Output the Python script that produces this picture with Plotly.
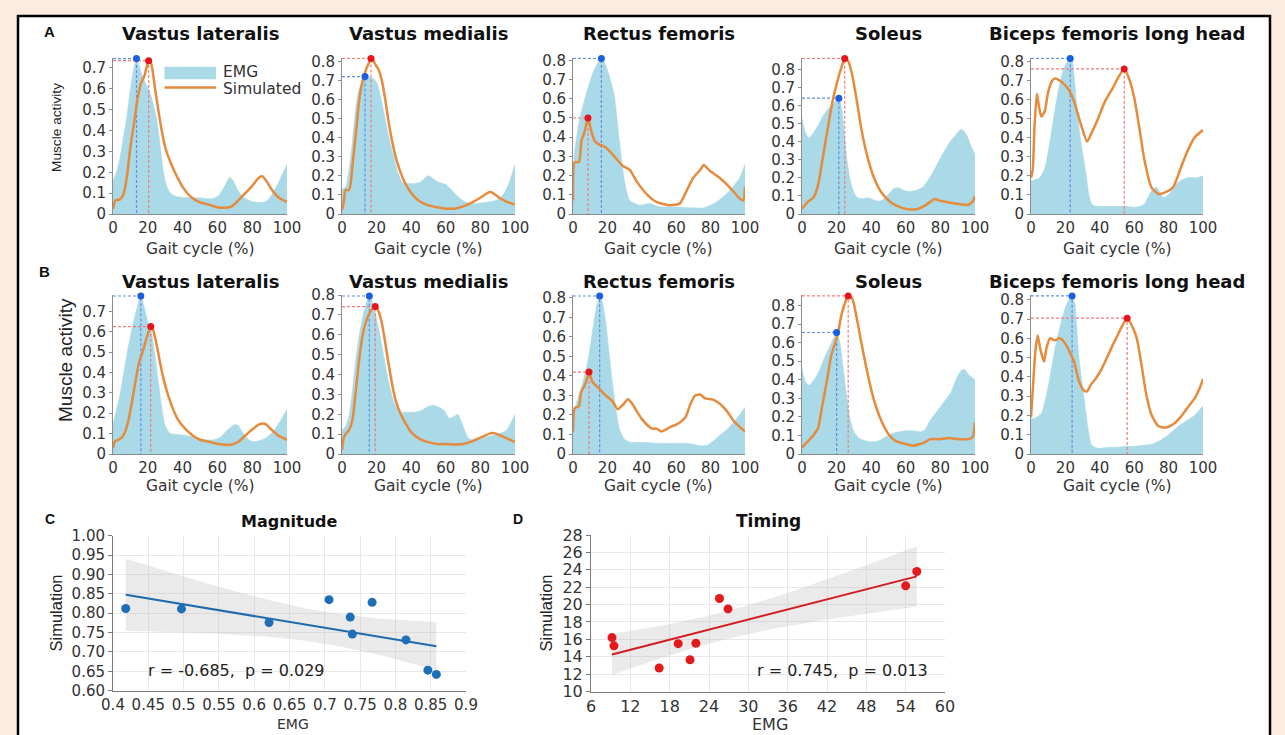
import numpy as np
import plotly.graph_objects as go

W, H = 1285, 735

MUSCLES = ["Vastus lateralis", "Vastus medialis", "Rectus femoris", "Soleus",
           "Biceps femoris long head"]
GAIT_TICKS = [0, 20, 40, 60, 80, 100]

# ---------------- Row A : EMG (filled) and simulated activity ----------------
A_VL_EMG_X = [0, 2, 4, 6, 8, 10, 12, 13.5, 15, 17, 19, 21, 23, 25, 27, 29, 31, 33, 36, 40, 45, 50, 55, 58, 61, 64, 67, 69, 72, 75, 80, 85, 88, 91, 95, 100]
A_VL_EMG_Y = [0.16, 0.2, 0.27, 0.37, 0.47, 0.6, 0.7, 0.745, 0.71, 0.66, 0.62, 0.59, 0.53, 0.46, 0.34, 0.2, 0.13, 0.1, 0.085, 0.08, 0.078, 0.077, 0.073, 0.075, 0.09, 0.13, 0.175, 0.16, 0.11, 0.08, 0.06, 0.055, 0.06, 0.09, 0.15, 0.24]
A_VL_SIM_X = [0, 1.4, 4, 6, 8, 10, 12, 14, 16, 18, 19.5, 20.5, 22, 24, 26, 28, 30, 32, 35, 38, 40, 45, 50, 55, 60, 65, 68, 72, 76, 80, 84, 86, 88, 91, 95, 100]
A_VL_SIM_Y = [0.025, 0.065, 0.07, 0.095, 0.18, 0.32, 0.43, 0.545, 0.625, 0.66, 0.71, 0.735, 0.72, 0.61, 0.5, 0.4, 0.32, 0.27, 0.21, 0.16, 0.13, 0.08, 0.056, 0.045, 0.032, 0.03, 0.035, 0.065, 0.1, 0.135, 0.175, 0.18, 0.16, 0.12, 0.08, 0.057]

A_VM_EMG_X = [0, 2, 4, 6, 8, 10, 12, 13.3, 15, 18, 20, 22, 24, 26, 28, 30, 32, 35, 38, 42, 45, 48, 50, 52, 55, 58, 60, 63, 66, 70, 74, 78, 82, 86, 90, 93, 96, 100]
A_VM_EMG_Y = [0.13, 0.14, 0.23, 0.38, 0.56, 0.66, 0.7, 0.72, 0.72, 0.71, 0.69, 0.63, 0.54, 0.45, 0.365, 0.3, 0.225, 0.165, 0.16, 0.16, 0.165, 0.19, 0.2, 0.19, 0.17, 0.16, 0.155, 0.13, 0.1, 0.07, 0.055, 0.055, 0.06, 0.065, 0.075, 0.1, 0.15, 0.26]
A_VM_SIM_X = [0, 1, 2, 4, 5, 6, 8, 10, 12, 14, 15.5, 16.8, 18, 19.5, 21, 23, 25, 27, 29, 31, 33, 36, 40, 45, 50, 55, 60, 65, 70, 75, 80, 84, 86, 88, 91, 95, 100]
A_VM_SIM_Y = [0.02, 0.06, 0.125, 0.125, 0.16, 0.25, 0.42, 0.6, 0.7, 0.76, 0.79, 0.815, 0.805, 0.78, 0.76, 0.7, 0.6, 0.48, 0.38, 0.3, 0.24, 0.17, 0.11, 0.065, 0.045, 0.035, 0.028, 0.028, 0.04, 0.06, 0.085, 0.11, 0.115, 0.105, 0.085, 0.065, 0.05]

A_RF_EMG_X = [0, 1, 4, 8, 11.6, 14, 16.5, 18, 20, 22, 24, 27, 30, 33, 38.8, 44.7, 50, 60, 70, 76, 83.5, 91, 97, 100]
A_RF_EMG_Y = [0.2, 0.33, 0.5, 0.635, 0.735, 0.78, 0.81, 0.795, 0.75, 0.69, 0.62, 0.38, 0.17, 0.07, 0.046, 0.055, 0.038, 0.037, 0.032, 0.032, 0.063, 0.12, 0.19, 0.26]
A_RF_SIM_X = [0, 1, 3.5, 4.9, 6.8, 8.7, 10.7, 12.6, 15.5, 18.4, 21, 25, 29, 33, 37, 42.7, 48.5, 56.3, 62, 66, 70, 74, 76, 79.5, 85, 91, 97, 99, 100]
A_RF_SIM_Y = [0.07, 0.27, 0.27, 0.38, 0.43, 0.5, 0.43, 0.38, 0.36, 0.35, 0.33, 0.29, 0.25, 0.23, 0.17, 0.105, 0.063, 0.046, 0.054, 0.12, 0.19, 0.23, 0.255, 0.225, 0.19, 0.14, 0.08, 0.07, 0.14]

A_SOL_EMG_X = [0, 2, 4, 6, 8, 10, 12, 15, 18, 21.3, 23, 24.5, 26, 28, 30, 32, 35, 38, 41, 44, 47, 50, 53, 56, 59, 62, 66, 70, 75, 80, 85, 90, 92, 95, 98, 100]
A_SOL_EMG_Y = [0.53, 0.45, 0.42, 0.44, 0.47, 0.5, 0.54, 0.58, 0.61, 0.64, 0.58, 0.45, 0.3, 0.18, 0.12, 0.09, 0.085, 0.09, 0.08, 0.07, 0.08, 0.11, 0.14, 0.145, 0.13, 0.125, 0.13, 0.15, 0.22, 0.31, 0.39, 0.45, 0.47, 0.44, 0.37, 0.33]
A_SOL_SIM_X = [0, 3.7, 6.5, 9.3, 12, 15, 17.7, 20.5, 22.8, 24.7, 26.7, 29, 31.7, 34.5, 38, 41.6, 45.8, 51.4, 57, 62.6, 66.9, 71, 75, 76.7, 79.5, 85, 90.7, 96, 99, 100]
A_SOL_SIM_Y = [0.03, 0.07, 0.09, 0.16, 0.31, 0.48, 0.625, 0.735, 0.81, 0.86, 0.845, 0.77, 0.625, 0.46, 0.31, 0.2, 0.12, 0.064, 0.037, 0.025, 0.028, 0.046, 0.073, 0.083, 0.074, 0.064, 0.055, 0.05, 0.074, 0.1]

A_BF_EMG_X = [0, 5, 8, 11, 13.8, 16.6, 19.4, 22.8, 24, 26.4, 29, 32, 34, 36, 40, 45, 50, 55, 60, 65.7, 70, 72.8, 77, 79.8, 85.4, 91, 96.6, 100]
A_BF_EMG_Y = [0.174, 0.19, 0.24, 0.38, 0.54, 0.68, 0.77, 0.815, 0.8, 0.59, 0.38, 0.21, 0.087, 0.045, 0.04, 0.04, 0.04, 0.04, 0.035, 0.05, 0.12, 0.14, 0.087, 0.1, 0.165, 0.19, 0.19, 0.2]
A_BF_SIM_X = [0, 1, 2, 3.4, 4.5, 6, 8, 10, 12.4, 14, 18, 22, 25, 29, 32.6, 35, 39, 43, 47.5, 51, 54.2, 57, 60, 63, 66, 70, 74, 78, 82.6, 87, 91, 95, 100]
A_BF_SIM_Y = [0.19, 0.23, 0.45, 0.63, 0.57, 0.51, 0.54, 0.64, 0.7, 0.71, 0.69, 0.65, 0.59, 0.47, 0.38, 0.42, 0.5, 0.59, 0.66, 0.72, 0.76, 0.71, 0.61, 0.45, 0.28, 0.14, 0.105, 0.113, 0.14, 0.24, 0.33, 0.4, 0.44]

# ---------------- Row B ----------------
B_VL_EMG_X = [0, 4, 8, 11, 13, 16, 18, 20, 22, 24, 26, 28, 30, 33, 38, 43, 48, 53, 58, 62, 66, 70, 72, 75, 78, 81, 84, 88, 92, 96, 100]
B_VL_EMG_Y = [0.15, 0.29, 0.49, 0.62, 0.69, 0.775, 0.72, 0.65, 0.6, 0.49, 0.36, 0.23, 0.14, 0.1, 0.095, 0.09, 0.08, 0.07, 0.07, 0.085, 0.12, 0.145, 0.14, 0.1, 0.07, 0.06, 0.065, 0.08, 0.11, 0.16, 0.22]
B_VL_SIM_X = [0, 1, 3, 5, 7, 9, 11, 13, 15, 17, 19, 21.7, 23, 25, 27, 29, 32, 35, 38, 42, 46, 50, 55, 60, 65, 68, 72, 76, 80, 84, 86, 88, 91, 95, 100]
B_VL_SIM_Y = [0.03, 0.06, 0.07, 0.08, 0.11, 0.17, 0.26, 0.36, 0.45, 0.5, 0.56, 0.625, 0.61, 0.54, 0.45, 0.37, 0.28, 0.21, 0.16, 0.12, 0.09, 0.07, 0.06, 0.05, 0.045, 0.045, 0.06, 0.09, 0.12, 0.145, 0.15, 0.145, 0.12, 0.09, 0.07]

B_VM_EMG_X = [0, 2, 4, 6, 8, 10, 12, 14, 15.8, 17, 19, 21, 23, 25, 27, 29, 31, 34, 38, 42, 46, 50, 53, 56, 59, 62, 65, 67, 70, 73, 76, 80, 85, 90, 95, 100]
B_VM_EMG_Y = [0.12, 0.14, 0.19, 0.32, 0.48, 0.6, 0.69, 0.76, 0.795, 0.78, 0.72, 0.64, 0.55, 0.45, 0.36, 0.29, 0.24, 0.21, 0.21, 0.21, 0.22, 0.24, 0.245, 0.235, 0.22, 0.18, 0.19, 0.2, 0.14, 0.08, 0.07, 0.075, 0.09, 0.1, 0.12, 0.2]
B_VM_SIM_X = [0, 1, 2, 4, 6, 8, 10, 12, 14, 16, 17.5, 19.2, 21, 23, 25, 27, 29, 31, 34, 37, 40, 45, 50, 55, 60, 65, 70, 74, 78, 82, 86, 88, 91, 95, 100]
B_VM_SIM_Y = [0.02, 0.08, 0.1, 0.12, 0.17, 0.32, 0.48, 0.6, 0.67, 0.71, 0.73, 0.742, 0.72, 0.66, 0.56, 0.45, 0.35, 0.27, 0.2, 0.15, 0.11, 0.075, 0.06, 0.05, 0.05, 0.048, 0.05, 0.06, 0.075, 0.09, 0.105, 0.105, 0.095, 0.08, 0.06]

B_RF_EMG_X = [0, 2, 4, 6, 8, 10, 12, 14, 15.5, 17, 19, 21, 23, 25, 27, 30, 33, 38, 44, 50, 56, 62, 66, 70, 74, 78, 82, 86, 90, 95, 100]
B_RF_EMG_Y = [0.22, 0.26, 0.32, 0.38, 0.45, 0.55, 0.67, 0.77, 0.81, 0.78, 0.68, 0.52, 0.36, 0.23, 0.13, 0.075, 0.06, 0.06, 0.058, 0.055, 0.055, 0.055, 0.055, 0.05, 0.042, 0.045, 0.07, 0.1, 0.13, 0.18, 0.24]
B_RF_SIM_X = [0, 1, 3.4, 4.8, 6.2, 7.6, 9.3, 11.3, 14.7, 19, 23, 26, 28.8, 32, 35, 37, 40, 43, 46, 48.6, 51.4, 54, 57, 60, 62.7, 65.5, 68, 71, 74, 76.8, 81, 85, 89.5, 93.8, 98, 100]
B_RF_SIM_Y = [0.115, 0.235, 0.245, 0.32, 0.34, 0.37, 0.42, 0.37, 0.34, 0.3, 0.27, 0.23, 0.25, 0.28, 0.25, 0.22, 0.18, 0.15, 0.13, 0.13, 0.115, 0.125, 0.14, 0.15, 0.165, 0.19, 0.25, 0.3, 0.305, 0.285, 0.28, 0.26, 0.22, 0.165, 0.13, 0.115]

B_SOL_EMG_X = [0, 2, 4, 7, 10, 13, 16, 18, 20, 22, 24, 26, 28, 30, 33, 37, 40, 44, 48, 52, 56, 60, 64, 68, 71, 74, 78, 82, 86, 89, 92, 94, 96, 100]
B_SOL_EMG_Y = [0.46, 0.39, 0.37, 0.4, 0.45, 0.52, 0.58, 0.62, 0.655, 0.6, 0.45, 0.3, 0.18, 0.12, 0.085, 0.07, 0.065, 0.07, 0.09, 0.11, 0.12, 0.125, 0.125, 0.12, 0.13, 0.18, 0.23, 0.28, 0.33, 0.4, 0.45, 0.455, 0.43, 0.4]
B_SOL_SIM_X = [0, 3.6, 6.5, 9.3, 11.5, 14.3, 17, 20.5, 22.8, 24.7, 26.7, 29, 31.7, 34.5, 38, 41.6, 45.8, 50, 54, 60, 64, 68, 71, 74, 79.5, 85, 90.7, 96, 98.6, 100]
B_SOL_SIM_Y = [0.035, 0.07, 0.1, 0.14, 0.25, 0.39, 0.535, 0.64, 0.75, 0.81, 0.852, 0.84, 0.73, 0.59, 0.43, 0.29, 0.18, 0.107, 0.071, 0.054, 0.045, 0.054, 0.063, 0.08, 0.08, 0.086, 0.08, 0.08, 0.09, 0.17]

B_BF_EMG_X = [0, 3, 6, 8, 10, 12, 14, 16, 18, 20, 22, 23.9, 25.5, 27.8, 30.6, 33.4, 35, 37, 40, 45, 50, 55, 60, 65, 70, 75, 80, 85, 90, 95, 100]
B_BF_EMG_Y = [0.18, 0.19, 0.21, 0.27, 0.35, 0.45, 0.55, 0.63, 0.7, 0.76, 0.8, 0.82, 0.78, 0.51, 0.31, 0.12, 0.05, 0.035, 0.03, 0.035, 0.035, 0.04, 0.04, 0.045, 0.05, 0.07, 0.1, 0.14, 0.17, 0.2, 0.25]
B_BF_SIM_X = [0, 1.1, 2.5, 3.9, 5.3, 6.7, 7.6, 9, 11, 13.8, 16.6, 18.5, 20.8, 23, 25, 27.8, 30.6, 32.6, 34.8, 37.6, 41, 44.7, 47.5, 50.3, 53, 55.9, 58.7, 61.5, 64.3, 67, 70, 74, 78.4, 82.6, 86.8, 91, 95.2, 98, 100]
B_BF_SIM_Y = [0.19, 0.34, 0.53, 0.615, 0.55, 0.5, 0.48, 0.55, 0.6, 0.59, 0.6, 0.59, 0.56, 0.52, 0.48, 0.38, 0.33, 0.325, 0.36, 0.39, 0.44, 0.51, 0.565, 0.615, 0.665, 0.705, 0.665, 0.6, 0.46, 0.31, 0.205, 0.145, 0.137, 0.154, 0.19, 0.24, 0.29, 0.34, 0.39]

# ---------------- Panels C and D (peak magnitude / timing) ----------------
C_EMG = [0.418, 0.497, 0.621, 0.706, 0.736, 0.739, 0.767, 0.815, 0.846, 0.858]
C_SIM = [0.812, 0.811, 0.776, 0.835, 0.790, 0.746, 0.828, 0.731, 0.653, 0.642]
D_EMG = [9.2, 9.5, 16.4, 19.3, 21.1, 22.0, 25.6, 26.9, 54.0, 55.7]
D_SIM = [16.2, 15.25, 12.7, 15.5, 13.65, 15.55, 20.7, 19.5, 22.15, 23.8]
C_XTICKS = [0.4, 0.45, 0.5, 0.55, 0.6, 0.65, 0.7, 0.75, 0.8, 0.85, 0.9]
C_XTICKTEXT = ["0.4", "0.45", "0.5", "0.55", "0.6", "0.65", "0.7", "0.75", "0.8", "0.85", "0.9"]
C_YTICKS = [0.6, 0.65, 0.7, 0.75, 0.8, 0.85, 0.9, 0.95, 1.0]
D_XTICKS = [6, 12, 18, 24, 30, 36, 42, 48, 54, 60]
D_YTICKS = [10, 12, 14, 16, 18, 20, 22, 24, 26, 28]
C_STATS = "r = -0.685,\u00a0 p = 0.029"
D_STATS = "r = 0.745,\u00a0 p = 0.013"
T_CRIT = 2.306  # t(0.975, df=8)

ROWS = [
    [(A_VL_EMG_X, A_VL_EMG_Y, A_VL_SIM_X, A_VL_SIM_Y),
     (A_VM_EMG_X, A_VM_EMG_Y, A_VM_SIM_X, A_VM_SIM_Y),
     (A_RF_EMG_X, A_RF_EMG_Y, A_RF_SIM_X, A_RF_SIM_Y),
     (A_SOL_EMG_X, A_SOL_EMG_Y, A_SOL_SIM_X, A_SOL_SIM_Y),
     (A_BF_EMG_X, A_BF_EMG_Y, A_BF_SIM_X, A_BF_SIM_Y)],
    [(B_VL_EMG_X, B_VL_EMG_Y, B_VL_SIM_X, B_VL_SIM_Y),
     (B_VM_EMG_X, B_VM_EMG_Y, B_VM_SIM_X, B_VM_SIM_Y),
     (B_RF_EMG_X, B_RF_EMG_Y, B_RF_SIM_X, B_RF_SIM_Y),
     (B_SOL_EMG_X, B_SOL_EMG_Y, B_SOL_SIM_X, B_SOL_SIM_Y),
     (B_BF_EMG_X, B_BF_EMG_Y, B_BF_SIM_X, B_BF_SIM_Y)],
]

# ---------------- layout geometry (pixels) ----------------
COL_PX = [(113, 287), (342, 515), (573, 745), (802, 975), (1031, 1203)]
ROW_PX = [(57.5, 214), (295, 454)]
TITLE_Y = [34, 282]
XTITLE_Y = [249, 486]

EMG_FILL = "#aad9e7"
ORANGE = "#e68a3c"
BLUE_DOT = "#1a5fe0"
RED_DOT = "#e8141c"
BLUE_DASH = "#5f8fe8"
RED_DASH = "#f07c7c"
TXT = "#2b2b2b"
SANS = "DejaVu Sans"
ARIAL = "Liberation Sans"


def xd(l, r):
    return [l / W, r / W]


def yd(t, b):
    return [1 - b / H, 1 - t / H]


def px(xp):
    return xp / W


def py(yp):
    return 1 - yp / H


fig = go.Figure()
layout = dict(
    width=W, height=H, autosize=False,
    margin=dict(l=0, r=0, t=0, b=0, pad=0, autoexpand=False),
    paper_bgcolor="#fcebdf", plot_bgcolor="rgba(0,0,0,0)",
    showlegend=False, font=dict(family=SANS, color=TXT),
)
annotations = []
shapes = []


def ann(text, x, y, size, family=SANS, bold=False, angle=0, xanchor="center", color=TXT):
    annotations.append(dict(
        text=f"<b>{text}</b>" if bold else text, x=px(x), y=py(y), xref="paper", yref="paper",
        xanchor=xanchor, yanchor="middle", showarrow=False, textangle=angle,
        font=dict(size=size, family=family, color=color)))


n = 0
for r, row in enumerate(ROWS):
    for c, (ex, ey, sx, sy) in enumerate(row):
        n += 1
        xa, ya = f"x{n}", f"y{n}"
        ie, isim = int(np.argmax(ey)), int(np.argmax(sy))
        pe = (ex[ie], ey[ie])
        ps = (sx[isim], sy[isim])
        top = max(pe[1], ps[1]) + 0.005

        fig.add_trace(go.Scatter(x=ex, y=ey, mode="lines", fill="tozeroy", fillcolor=EMG_FILL,
                                 line=dict(color=EMG_FILL, width=0.5, shape="spline", smoothing=0.6),
                                 xaxis=xa, yaxis=ya, hoverinfo="skip"))
        for (p, col) in ((pe, BLUE_DASH), (ps, RED_DASH)):
            fig.add_trace(go.Scatter(x=[0, p[0], p[0]], y=[p[1], p[1], 0], mode="lines",
                                     line=dict(color=col, width=1.2, dash="3px,2px"),
                                     xaxis=xa, yaxis=ya, hoverinfo="skip"))
        fig.add_trace(go.Scatter(x=sx, y=sy, mode="lines",
                                 line=dict(color=ORANGE, width=2.5, shape="spline", smoothing=0.6),
                                 xaxis=xa, yaxis=ya))
        fig.add_trace(go.Scatter(x=[pe[0], ps[0]], y=[pe[1], ps[1]], mode="markers",
                                 marker=dict(color=[BLUE_DOT, RED_DOT], size=7),
                                 cliponaxis=False, xaxis=xa, yaxis=ya))

        l, rr = COL_PX[c]
        t, b = ROW_PX[r]
        layout[f"xaxis{n}"] = dict(
            domain=xd(l, rr), anchor=ya, range=[0, 100], tickvals=GAIT_TICKS, automargin=False,
            showline=True, linecolor="#8c8c8c", linewidth=1, ticks="",
            showgrid=False, zeroline=False, tickangle=0,
            tickfont=dict(family=SANS, size=15, color="#333"))
        layout[f"yaxis{n}"] = dict(
            domain=yd(t, b), anchor=xa, range=[0, top], tick0=0, dtick=0.1, automargin=False,
            showline=True, linecolor="#8c8c8c", linewidth=1, ticks="outside", ticklen=3,
            tickcolor="#8c8c8c", showgrid=False, zeroline=False,
            tickfont=dict(family=SANS, size=15, color="#333"))
        ann(MUSCLES[c], (l + rr) / 2, TITLE_Y[r], 18, bold=True, color="#111")
        ann("Gait cycle (%)", (l + rr) / 2, XTITLE_Y[r], 15.5, color="#333")

ann("Muscle activity", 56, 128, 13.7, family=ARIAL, angle=-90, color="#222")
ann("Muscle activity", 65, 360, 19, family=ARIAL, angle=-90, color="#222")
ann("A", 49, 31, 15, family=ARIAL, bold=True, color="#111")
ann("B", 44, 272, 15, family=ARIAL, bold=True, color="#111")

# legend (manual)
shapes.append(dict(type="rect", xref="paper", yref="paper", x0=px(164.5), x1=px(216),
                   y0=py(79.3), y1=py(66.7), fillcolor=EMG_FILL, line=dict(width=0), layer="above"))
shapes.append(dict(type="line", xref="paper", yref="paper", x0=px(164.5), x1=px(216),
                   y0=py(87.5), y1=py(87.5), line=dict(color=ORANGE, width=2.5), layer="above"))
ann("EMG", 221, 72, 15.5, xanchor="left", color="#333")
ann("Simulated", 221, 89, 15.5, xanchor="left", color="#333")


# ---------------- scatter panels ----------------
def regression(xv, yv):
    xv, yv = np.asarray(xv, float), np.asarray(yv, float)
    slope, icpt = np.polyfit(xv, yv, 1)
    res = yv - (slope * xv + icpt)
    s = np.sqrt(np.sum(res ** 2) / (len(xv) - 2))
    sxx = np.sum((xv - xv.mean()) ** 2)
    xs = np.linspace(xv.min(), xv.max(), 60)
    fit = slope * xs + icpt
    half = T_CRIT * s * np.sqrt(1 / len(xv) + (xs - xv.mean()) ** 2 / sxx)
    return xs, fit, fit - half, fit + half


SCATTERS = [
    dict(x=C_EMG, y=C_SIM, color="#1f6fb8", line="#1f6aad", title="Magnitude", stats=C_STATS,
         xb=(113, 466), yb=(535.7, 690.7), xr=[0.4, 0.9], yr=[0.6, 1.0],
         xt=C_XTICKS, xtt=C_XTICKTEXT, yt=C_YTICKS, ytf=".2f", letter="C", letter_x=50,
         stats_x=236, emg_x=293, emg_size=14, sim_x=55, tsize=16, tick_size=15),
    dict(x=D_EMG, y=D_SIM, color="#e31a1c", line="#d21c1f", title="Timing", stats=D_STATS,
         xb=(591, 945), yb=(535, 691.5), xr=[6, 60], yr=[10, 28],
         xt=D_XTICKS, xtt=[str(v) for v in D_XTICKS], yt=D_YTICKS, ytf="d", letter="D", letter_x=518,
         stats_x=842, emg_x=770, emg_size=16, sim_x=545, tsize=17, tick_size=16),
]

for k, sp in enumerate(SCATTERS):
    n += 1
    xa, ya = f"x{n}", f"y{n}"
    xs, fit, lo, hi = regression(sp["x"], sp["y"])
    fig.add_trace(go.Scatter(x=np.concatenate([xs, xs[::-1]]), y=np.concatenate([hi, lo[::-1]]),
                             fill="toself", fillcolor="rgba(185,185,185,0.3)", mode="lines",
                             line=dict(width=0), xaxis=xa, yaxis=ya, hoverinfo="skip"))
    fig.add_trace(go.Scatter(x=xs, y=fit, mode="lines", line=dict(color=sp["line"], width=2),
                             xaxis=xa, yaxis=ya))
    fig.add_trace(go.Scatter(x=sp["x"], y=sp["y"], mode="markers",
                             marker=dict(color=sp["color"], size=9), cliponaxis=False,
                             xaxis=xa, yaxis=ya))
    l, rr = sp["xb"]
    t, b = sp["yb"]
    common = dict(showline=True, linecolor="#7a7a7a", linewidth=1,
                  showgrid=True, gridcolor="#e8e8e8", gridwidth=1,
                  zeroline=False, tickangle=0, automargin=False,
                  tickfont=dict(family=SANS, size=sp["tick_size"], color="#333"))
    layout[f"xaxis{n}"] = dict(domain=xd(l, rr), anchor=ya, range=sp["xr"], tickvals=sp["xt"],
                               ticktext=sp["xtt"], ticks="", **common)
    layout[f"yaxis{n}"] = dict(domain=yd(t, b), anchor=xa, range=sp["yr"], tickvals=sp["yt"],
                               tickformat=sp["ytf"], ticks="outside", ticklen=4,
                               tickcolor="#7a7a7a", **common)
    ann(sp["title"], (l + rr) / 2, 521, sp["tsize"], bold=True, color="#111")
    ann(sp["letter"], sp["letter_x"], 519, 14, family=ARIAL, bold=True, color="#111")
    ann(sp["stats"], sp["stats_x"], 670, 16, color="#222")
    ann("EMG", sp["emg_x"], 724, sp["emg_size"], color="#333")
    ann("Simulation", sp["sim_x"], 613.5, 16.5, family=ARIAL, angle=-90, color="#222")

# white framed panel
shapes.insert(0, dict(type="rect", xref="paper", yref="paper", x0=px(18), x1=px(1270),
                      y0=-0.05, y1=py(16), fillcolor="white",
                      line=dict(color="black", width=2.5), layer="below"))

layout["annotations"] = annotations
layout["shapes"] = shapes
fig.update_layout(**layout)
fig.write_html("out.html", config={"responsive": False, "displayModeBar": False},
               post_script="document.body.style.margin='0';document.body.style.overflow='hidden';")
